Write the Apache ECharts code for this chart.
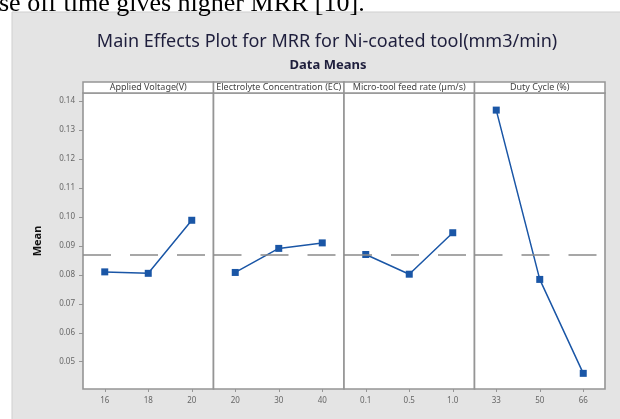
<!DOCTYPE html>
<html><head><meta charset="utf-8">
<script src="https://cdn.jsdelivr.net/npm/echarts@6/dist/echarts.min.js"></script>
<style>html,body{margin:0;padding:0;background:#fff}#c{width:620px;height:419px}</style>
</head><body><div id="c"></div><script>
const factors = ['Applied Voltage(V)', 'Electrolyte Concentration (EC)', 'Micro-tool feed rate (µm/s)', 'Duty Cycle (%)'];
const levelsVoltage = ['16', '18', '20'];
const levelsEC = ['20', '30', '40'];
const levelsFeed = ['0.1', '0.5', '1.0'];
const levelsDuty = ['33', '50', '66'];
const meansVoltage = [0.0810, 0.0805, 0.0988];
const meansEC = [0.0808, 0.0891, 0.0910];
const meansFeed = [0.0870, 0.0802, 0.0945];
const meansDuty = [0.1368, 0.0784, 0.0460];
const yTicks = [0.05, 0.06, 0.07, 0.08, 0.09, 0.10, 0.11, 0.12, 0.13, 0.14];
const grandMean = 0.0868;

const levels = [levelsVoltage, levelsEC, levelsFeed, levelsDuty];
const means = [meansVoltage, meansEC, meansFeed, meansDuty];

const chart = echarts.init(document.getElementById('c'), null, {renderer: 'canvas'});
const pLeft = 83, pTop = 93, pW = 130.5, pH = 296;
const grids = [], xAxes = [], yAxes = [], series = [], graphics = [];

graphics.push({type: 'rect', z: -10, shape: {x: 12, y: 12, width: 620, height: 420},
  style: {fill: '#e4e4e4', stroke: '#cfcfcf', lineWidth: 1}});
graphics.push({type: 'text', z: 10, x: -1, y: 17,
  style: {text: 'se off time gives higher MRR [10].', font: '26px "Liberation Serif"', fill: '#000', textVerticalAlign: 'bottom'}});

for (let i = 0; i < 4; i++) {
  const left = pLeft + i * pW;
  grids.push({left: left, top: pTop, width: pW, height: pH, show: true,
    backgroundColor: '#fff', borderColor: '#959595', borderWidth: 1.6, containLabel: false});
  xAxes.push({type: 'category', gridIndex: i, data: levels[i], boundaryGap: true,
    axisLine: {show: false},
    axisTick: {show: true, alignWithLabel: true, length: 3, lineStyle: {color: '#959595'}},
    axisLabel: {fontSize: 8, color: '#666', margin: 8, fontFamily: 'Noto Sans'},
    splitLine: {show: false}});
  yAxes.push({type: 'value', gridIndex: i, min: 0.0406, max: 0.1427,
    name: i === 0 ? 'Mean' : '', nameLocation: 'middle', nameGap: 40,
    nameTextStyle: {fontSize: 11, fontWeight: 'bold', color: '#111', fontFamily: 'Noto Sans'},
    axisLine: {show: false},
    axisTick: {show: i === 0, length: 4, customValues: yTicks, lineStyle: {color: '#959595'}},
    axisLabel: {show: i === 0, customValues: yTicks, fontSize: 8, color: '#666', margin: 8,
      fontFamily: 'Noto Sans', formatter: v => v.toFixed(2)},
    splitLine: {show: false}});
  series.push({type: 'line', xAxisIndex: i, yAxisIndex: i, data: means[i],
    symbol: 'rect', symbolSize: 7, showSymbol: true,
    lineStyle: {color: '#1a56a6', width: 1.5}, itemStyle: {color: '#1a56a6'},
    animation: false,
    markLine: {silent: true, symbol: 'none', precision: 6, label: {show: false}, animation: false,
      lineStyle: {color: '#8a8a8a', width: 1.5, type: [28, 19]},
      data: [{yAxis: grandMean}]}});
  graphics.push({type: 'rect', z: 5, shape: {x: left, y: 82, width: pW, height: 11},
    style: {fill: '#fff', stroke: '#959595', lineWidth: 1.5}});
  graphics.push({type: 'text', z: 6, x: left + pW / 2, y: 87.5,
    style: {text: factors[i], font: '9px "Noto Sans"', fill: '#444', align: 'center', verticalAlign: 'middle',
      width: pW - 4, overflow: 'truncate', ellipsis: ''}});
}

chart.setOption({
  animation: false,
  backgroundColor: '#fff',
  title: [
    {text: 'Main Effects Plot for MRR for Ni-coated tool(mm3/min)', left: 322, top: 28, textAlign: 'center',
      textStyle: {fontSize: 18, fontWeight: 'normal', color: '#1e1e3c', fontFamily: 'Noto Sans'}},
    {text: 'Data Means', left: 323, top: 54, textAlign: 'center',
      textStyle: {fontSize: 13, fontWeight: 'bold', color: '#1e1e3c', fontFamily: 'Noto Sans'}}
  ],
  grid: grids, xAxis: xAxes, yAxis: yAxes, series: series, graphic: graphics
});
</script></body></html>
